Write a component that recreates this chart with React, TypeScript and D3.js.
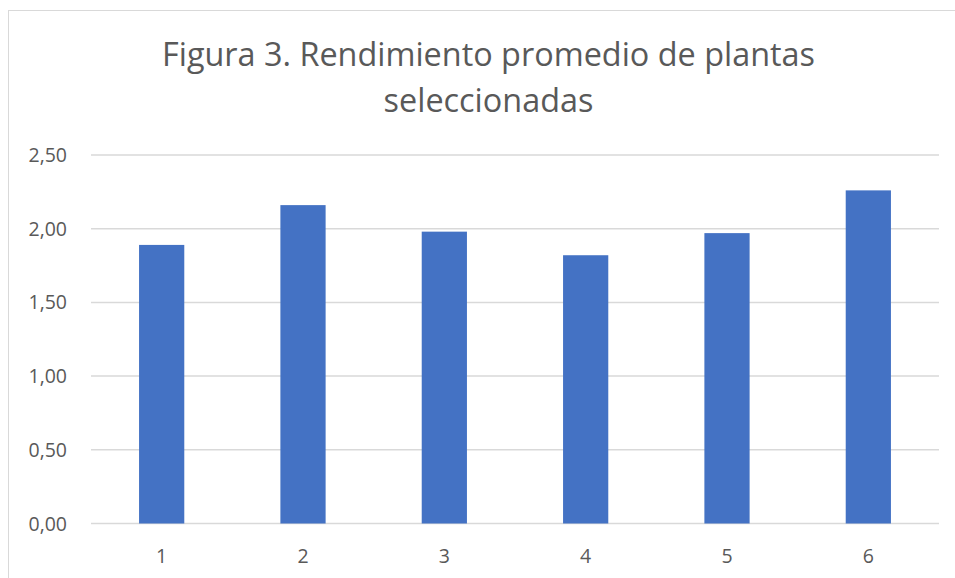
import React from "react";
import * as d3 from "d3";

const categories = ["1", "2", "3", "4", "5", "6"];
const values = [1.89, 2.16, 1.98, 1.82, 1.97, 2.26];
const yTicks = [0, 0.5, 1, 1.5, 2, 2.5];
const titleLines = ["Figura 3. Rendimiento promedio de plantas", "seleccionadas"];

export default function App() {
  const W = 955, H = 578;
  const left = 91, right = 939, top = 155, bottom = 523.5;
  const x = d3.scaleBand().domain(categories).range([left, right]).paddingInner(0.68).paddingOuter(0.34);
  const y = d3.scaleLinear().domain([0, 2.5]).range([bottom, top]);
  const fmt = (v: number) => v.toFixed(2).replace(".", ",");
  const font = "'Open Sans', 'Liberation Sans', sans-serif";
  return (
    <svg width={W} height={H} style={{ position: "absolute", left: 0, top: 0 }}>
      <rect x={0} y={0} width={W} height={H} fill="#fff" />
      <rect x={8.5} y={10.5} width={1000} height={1000} fill="none" stroke="#d9d9d9" strokeWidth={1} />
      {titleLines.map((t, i) => (
        <text key={i} x={488.5} y={65.5 + i * 46} textAnchor="middle" fontFamily={font} fontSize={32.4} fill="#595959">{t}</text>
      ))}
      {yTicks.map((t) => (
        <g key={t}>
          <line x1={left} x2={right} y1={y(t)} y2={y(t)} stroke="#d9d9d9" strokeWidth={1.5} />
          <text x={67} y={y(t) + 7} textAnchor="end" fontFamily={font} fontSize={19.5} fill="#595959">{fmt(t)}</text>
        </g>
      ))}
      {values.map((v, i) => (
        <rect key={i} x={x(categories[i])} y={y(v)} width={x.bandwidth()} height={bottom - y(v)} fill="#4472c4" />
      ))}
      {categories.map((c) => (
        <text key={c} x={(x(c) as number) + x.bandwidth() / 2} y={563} textAnchor="middle" fontFamily={font} fontSize={19.5} fill="#595959">{c}</text>
      ))}
    </svg>
  );
}
